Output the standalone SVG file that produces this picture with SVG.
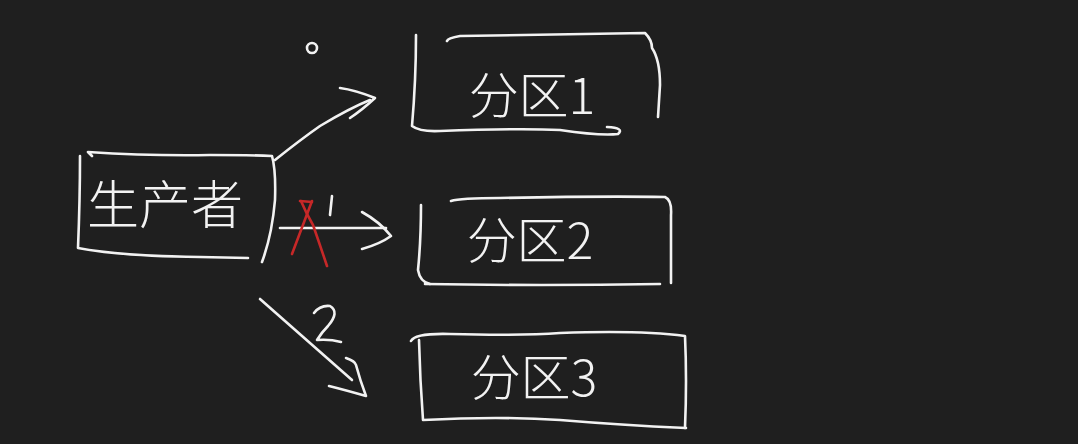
<svg xmlns="http://www.w3.org/2000/svg" width="1078" height="444" viewBox="0 0 1078 444">
<style>
.s{fill:none;stroke:#f2f2f2;stroke-width:2.6;stroke-linecap:round;stroke-linejoin:round}
.r{fill:none;stroke:#c62828;stroke-width:2.6;stroke-linecap:round}
.t{fill:#f2f2f2;font-family:"Noto Sans CJK SC","Liberation Sans",sans-serif;font-weight:300}
</style>
<rect width="1078" height="444" fill="#1f1f1f"/>
<g id="producer">
<path class="s" d="M92,156 L88,152 Q150,156 210,155 Q250,155 272,156 Q276,170 275,200 Q272,235 262,262"/>
<path class="s" d="M80,156 Q80,200 78,248 Q120,256 200,257 L248,258"/>
<text class="t" x="165" y="224" font-size="52" text-anchor="middle">生产者</text>
</g>
<g id="p1">
<path class="s" d="M416,35 Q416,80 412,126 Q420,132 440,131 Q520,128 560,130 Q600,136 618,134 Q625,128 607,127"/>
<path class="s" d="M447,41 Q448,38 460,36 Q560,34 645,33 Q652,40 652,48 Q660,60 660,85 L658,117"/>
<text class="t" x="532" y="114" font-size="50" text-anchor="middle">分区1</text>
</g>
<g id="p2">
<path class="s" d="M451,201 Q460,198 500,198 Q600,196 665,197 Q672,200 671,215 L671,283"/>
<path class="s" d="M421,205 Q421,240 418,270 Q420,282 430,284"/>
<path class="s" d="M425,284 Q540,286 660,284"/>
<text class="t" x="530" y="259" font-size="50" text-anchor="middle">分区2</text>
</g>
<g id="p3">
<path class="s" d="M411,341 Q415,333 450,334 Q520,336 560,333 Q640,330 685,336 Q687,380 685,428"/>
<path class="s" d="M419,340 Q420,380 423,420 Q500,416 560,420 Q620,425 686,428"/>
<text class="t" x="534" y="396" font-size="50" text-anchor="middle">分区3</text>
</g>
<g id="connectors">
<path class="s" d="M275,160 Q300,140 320,126 Q350,108 370,100"/>
<path class="s" d="M340,88 Q355,90 375,98 Q362,110 350,118"/>
<circle class="s" cx="312" cy="48" r="5"/>
<path class="s" d="M280,228 L386,228"/>
<path class="s" d="M362,212 Q380,222 391,236 Q380,244 362,249"/>
<path class="s" d="M332,196 L330,215"/>
<path class="r" d="M301,201 Q306,213 313,225 Q320,245 327,266"/>
<path class="r" d="M312,201 Q303,225 292,254"/>
<path class="r" d="M300,201 L312,202"/>
<path class="s" d="M260,299 L352,380"/>
<path class="s" d="M346,358 Q355,361 356,365 Q360,380 366,396 Q345,390 329,386"/>
<path class="s" d="M314,313 Q320,305 330,306 Q340,312 328,326 Q322,332 317,340 Q330,339 341,342"/>
</g>
</svg>
